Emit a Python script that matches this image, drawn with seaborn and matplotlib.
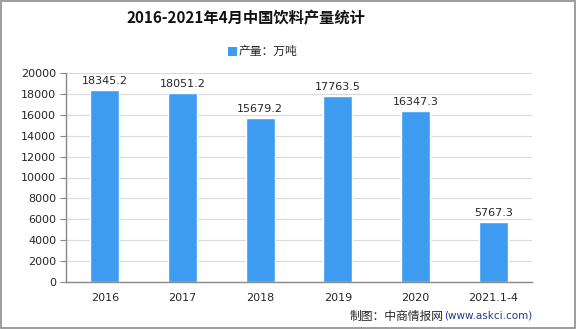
import matplotlib
matplotlib.use("Agg")
import matplotlib.pyplot as plt
import seaborn as sns
import pandas as pd
import numpy as np
from matplotlib.patches import Rectangle

categories = ["2016", "2017", "2018", "2019", "2020", "2021.1-4"]
values = [18345.2, 18051.2, 15679.2, 17763.5, 16347.3, 5767.3]
yticks = [0, 2000, 4000, 6000, 8000, 10000, 12000, 14000, 16000, 18000, 20000]

sns.set_style("white")
plt.rcParams['font.family'] = ['Noto Sans CJK SC', 'DejaVu Sans']

df = pd.DataFrame({"cat": categories, "val": values})
color = "#3d9cf0"

fig = plt.figure(figsize=(5.76, 3.29), dpi=100)
ax = fig.add_axes([66/576, 1-282/329, (532-66)/576, (282-73)/329])
sns.barplot(data=df, x="cat", y="val", color=color, width=0.37, ax=ax, saturation=1)

ax.set_ylim(0, 20000)
ax.set_xlim(-0.5, len(categories)-0.5)
ax.set_yticks(yticks)
ax.set_yticklabels([str(t) for t in yticks], fontsize=8, family=['DejaVu Sans'])
ax.yaxis.grid(True, color="#d9d9d9", linewidth=0.8)
ax.set_axisbelow(True)
ax.set_xlabel("")
ax.set_ylabel("")
ax.set_xticks(range(len(categories)))
ax.set_xticklabels(categories, fontsize=8, family=['DejaVu Sans'])
ax.tick_params(axis='x', which='major', length=0, pad=8)
ax.set_xticks(np.arange(-0.5, len(categories), 1), minor=True)
ax.tick_params(axis='x', which='minor', length=4, color="#888888", direction='out')
ax.tick_params(axis='y', length=4, color="#888888", direction='out', left=True, pad=3)
for s in ["top", "right"]:
    ax.spines[s].set_visible(False)
for s in ["left", "bottom"]:
    ax.spines[s].set_color("#888888")
    ax.spines[s].set_linewidth(1)

for i, v in enumerate(values):
    ax.text(i, v + 400, f"{v:.1f}", ha="center", va="bottom", fontsize=8, family=['DejaVu Sans'])

fig.text(246/576, 1-18/329, "2016-2021年4月中国饮料产量统计", ha="center", va="center",
         fontsize=11, fontweight="bold", color="#111111")
# legend
fig.patches.append(Rectangle((228/576, 1-56/329), 9/576, 9/329, transform=fig.transFigure,
                             facecolor=color, edgecolor="none"))
fig.text(239/576, 1-51.5/329, "产量：万吨", ha="left", va="center", fontsize=8.5)

url = fig.text(532/576, 1-316/329, "(www.askci.com)", ha="right", va="center",
               fontsize=7.5, color="#1f3c88", family=['DejaVu Sans'])
fig.canvas.draw()
bb = url.get_window_extent(renderer=fig.canvas.get_renderer())
fig.text(bb.x0/576, 1-316/329, "制图：中商情报网", ha="right", va="center", fontsize=8.5)

fig.patches.append(Rectangle((0.001, 0.002), 0.997, 0.995, transform=fig.transFigure,
                             facecolor="none", edgecolor="#8c8c8c", linewidth=1.2))

fig.savefig("out.png", dpi=100)
